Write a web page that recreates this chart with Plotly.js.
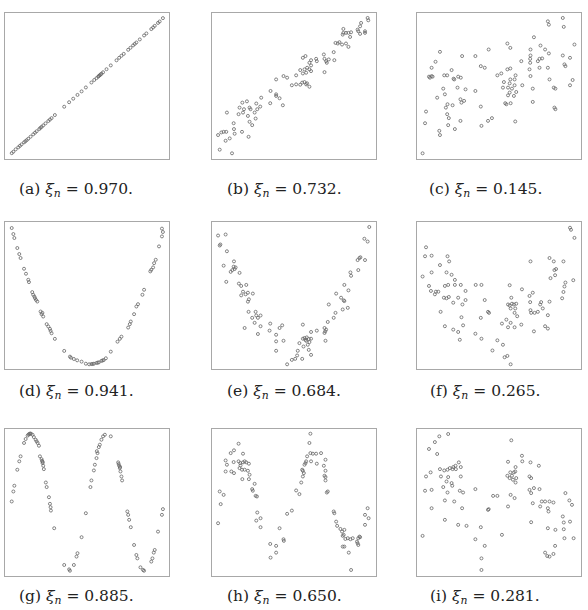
<!DOCTYPE html>
<html>
<head>
<meta charset="utf-8">
<script src="https://cdn.plot.ly/plotly-3.0.1.min.js"></script>
<style>
  html, body { margin: 0; padding: 0; background: #fff; }
  #chart { width: 588px; height: 610px; }
</style>
</head>
<body>
<div id="chart"></div>
<script>
// values, every panel on a 0..100 scale
const aX = [4.1, 5.1, 6.5, 8.1, 9.1, 10.1, 11.6, 13.2, 14.2, 15.6, 17.2, 18.3, 19.3, 20.9, 22.3, 23.3, 24.7, 26.4, 27.4, 28.4, 30.4, 36.1, 39.1, 41.6, 44.2, 46.7, 49.3, 52.7, 54.4, 55.8, 56.8, 57.8, 58.8, 59.8, 61.9, 64.5, 68.0, 69.6, 71.0, 72.4, 75.1, 76.5, 78.1, 79.1, 80.1, 82.2, 84.8, 86.2, 89.2, 90.3, 91.3, 93.3, 94.3, 96.3, 57.3, 58.3, 12.4, 21.6];
const aY = [4.0, 5.0, 6.6, 8.0, 9.0, 10.0, 11.4, 12.9, 13.9, 15.3, 16.9, 18.0, 19.0, 20.5, 22.0, 23.0, 24.4, 26.0, 27.0, 28.0, 30.1, 35.8, 38.9, 41.3, 43.9, 46.3, 49.0, 52.4, 54.1, 55.4, 56.4, 57.4, 58.4, 59.4, 61.5, 64.1, 67.6, 69.3, 70.7, 72.0, 74.8, 76.2, 77.8, 78.8, 79.8, 81.9, 84.6, 86.0, 89.0, 90.1, 91.2, 93.2, 94.2, 96.5, 56.9, 57.9, 12.1, 21.3];

const bX = [4.7, 12.2, 3.7, 5.7, 7.1, 8.7, 8.3, 10.8, 13.8, 13.4, 18.3, 22.3, 13.2, 9.1, 16.2, 18.9, 16.8, 19.5, 18.5, 21.3, 22.9, 23.5, 21.9, 22.9, 24.5, 26.6, 26.0, 27.6, 27.0, 29.4, 30.0, 35.7, 35.5, 39.1, 39.1, 41.2, 43.2, 39.1, 43.6, 45.8, 48.7, 51.3, 53.8, 55.0, 56.4, 58.0, 59.4, 51.3, 53.8, 56.4, 57.4, 58.0, 59.4, 60.4, 59.4, 60.4, 55.4, 57.0, 63.5, 63.9, 68.2, 68.6, 69.6, 71.2, 68.6, 74.2, 74.6, 75.3, 76.7, 77.7, 79.3, 81.7, 83.2, 80.1, 80.1, 79.7, 81.7, 83.2, 84.8, 84.2, 88.8, 89.2, 90.3, 90.9, 90.3, 93.3, 93.3, 94.9, 95.3, 57.4, 55.4, 60.4, 70.0];
const bY = [6.4, 3.9, 16.4, 18.2, 18.6, 18.6, 12.5, 14.1, 17.3, 20.5, 18.6, 15.2, 24.5, 31.8, 30.7, 31.8, 35.2, 34.1, 38.6, 39.5, 35.2, 34.1, 29.5, 25.5, 23.2, 27.7, 31.8, 34.1, 38.0, 35.9, 42.0, 46.6, 38.2, 44.3, 43.2, 41.6, 36.8, 54.5, 56.8, 55.7, 50.5, 51.1, 50.9, 52.3, 52.7, 51.8, 49.5, 57.3, 60.9, 61.4, 59.1, 62.5, 61.4, 64.1, 65.9, 67.7, 69.3, 70.5, 68.6, 67.0, 71.6, 68.6, 67.0, 68.2, 59.5, 73.2, 67.7, 79.5, 79.1, 80.0, 78.4, 79.1, 76.8, 89.1, 86.4, 85.2, 86.4, 86.4, 86.8, 83.6, 88.6, 87.5, 90.9, 93.2, 85.7, 87.5, 86.4, 96.6, 95.0, 51.1, 58.6, 60.2, 65.9];

const cX = [3.4, 4.9, 5.5, 12.3, 13.6, 14.0, 19.0, 23.1, 19.4, 18.4, 17.6, 18.6, 21.7, 26.5, 27.1, 28.7, 26.5, 16.0, 17.0, 24.7, 29.6, 35.6, 38.9, 39.3, 43.3, 45.7, 59.9, 54.5, 57.1, 59.1, 60.5, 56.5, 55.5, 52.4, 55.5, 57.9, 59.5, 53.0, 56.9, 59.5, 56.5, 64.2, 70.6, 70.6, 83.8, 84.4, 7.9, 7.3, 8.9, 9.5, 16.6, 18.4, 22.3, 22.7, 25.1, 26.7, 21.1, 8.9, 11.3, 14.0, 27.5, 35.6, 38.9, 41.3, 43.7, 49.0, 51.4, 55.1, 56.9, 55.1, 56.9, 60.1, 63.6, 68.6, 69.0, 69.0, 69.2, 69.2, 69.2, 71.3, 73.7, 74.7, 75.3, 76.3, 78.1, 80.4, 79.8, 80.8, 83.4, 84.4, 88.9, 89.9, 90.5, 93.3, 94.9, 93.3, 96.0, 79.8, 80.4, 88.9, 89.5, 74.7, 53.8];
const cY = [3.9, 24.5, 32.5, 42.0, 19.3, 16.4, 23.2, 20.5, 28.0, 30.7, 35.2, 37.5, 36.8, 40.9, 38.6, 39.8, 26.1, 48.2, 44.3, 48.9, 47.7, 46.6, 35.9, 22.7, 26.1, 28.0, 25.7, 37.5, 38.2, 43.2, 45.9, 45.5, 43.6, 48.9, 48.9, 48.2, 50.5, 52.7, 54.5, 54.5, 51.8, 50.5, 48.2, 39.1, 35.2, 34.1, 55.7, 56.4, 56.8, 56.4, 57.3, 57.3, 55.0, 54.5, 56.4, 55.7, 60.9, 62.5, 66.6, 73.4, 70.5, 70.5, 63.6, 62.5, 75.0, 57.3, 58.6, 61.4, 62.0, 79.1, 76.1, 57.3, 67.0, 61.4, 65.9, 68.6, 70.9, 75.0, 56.8, 83.4, 67.0, 68.6, 77.7, 68.9, 75.0, 72.3, 62.5, 54.5, 48.9, 48.2, 70.9, 64.8, 63.6, 69.3, 54.1, 50.5, 78.4, 94.3, 92.0, 96.6, 90.5, 62.5, 38.2];

const dX = [4.1, 5.1, 5.7, 7.5, 8.7, 9.5, 11.6, 12.8, 14.2, 14.6, 16.6, 17.2, 18.3, 18.9, 19.7, 21.7, 22.3, 23.3, 25.4, 26.4, 27.4, 27.8, 28.4, 30.4, 36.1, 39.6, 40.2, 42.0, 44.0, 46.7, 49.3, 51.3, 52.7, 54.2, 55.8, 57.2, 58.8, 60.2, 61.5, 64.5, 68.6, 70.0, 71.0, 75.1, 76.1, 76.7, 78.7, 80.1, 81.1, 83.8, 84.8, 88.6, 89.2, 90.3, 90.9, 91.9, 93.9, 95.7, 96.3, 95.7, 53.4, 56.5, 59.5, 17.9, 22.8];
const dY = [95.9, 91.8, 89.1, 82.3, 78.2, 75.5, 68.2, 64.8, 60.7, 59.1, 52.3, 50.5, 48.2, 47.0, 45.9, 39.1, 37.3, 35.7, 30.5, 28.9, 27.3, 25.9, 24.3, 20.5, 12.3, 8.4, 7.7, 6.8, 5.9, 5.0, 3.6, 3.2, 3.4, 3.6, 4.1, 4.5, 5.5, 6.1, 7.3, 11.8, 18.6, 20.5, 22.0, 28.2, 30.5, 32.3, 37.3, 42.5, 44.1, 50.5, 53.9, 66.4, 67.5, 69.1, 72.0, 74.3, 83.4, 90.2, 93.2, 95.5, 3.4, 4.3, 5.8, 49.3, 38.2];

const eX = [3.7, 8.3, 4.7, 5.1, 9.1, 7.1, 8.7, 11.4, 12.4, 13.2, 13.8, 13.4, 14.4, 16.8, 16.4, 17.8, 20.9, 18.9, 21.9, 17.8, 20.5, 22.5, 21.9, 24.9, 22.3, 26.6, 27.0, 29.6, 28.0, 24.5, 26.0, 19.9, 29.6, 35.5, 35.1, 28.0, 39.1, 41.2, 42.8, 43.6, 39.1, 39.1, 45.8, 48.7, 50.7, 52.3, 51.9, 55.0, 53.3, 55.4, 56.4, 57.0, 57.4, 57.8, 59.0, 59.4, 60.4, 58.4, 55.8, 59.0, 60.4, 55.4, 60.4, 63.9, 68.6, 69.0, 69.6, 68.6, 69.2, 70.6, 71.2, 74.2, 75.3, 79.7, 82.8, 75.7, 78.7, 80.3, 80.7, 80.7, 83.2, 84.4, 84.8, 89.2, 88.8, 89.9, 90.5, 93.3, 92.9, 94.9, 95.9];
const eY = [90.8, 91.5, 84.0, 84.7, 80.1, 70.3, 59.3, 66.1, 67.3, 69.6, 68.0, 73.2, 69.1, 65.4, 58.1, 56.5, 57.2, 52.6, 51.9, 50.1, 50.8, 47.4, 45.8, 51.3, 38.9, 38.9, 36.4, 36.4, 34.8, 34.8, 31.4, 27.9, 29.1, 30.9, 26.1, 23.8, 23.3, 27.9, 29.7, 19.2, 18.8, 12.4, 3.2, 6.2, 6.9, 12.4, 9.2, 6.9, 17.6, 20.6, 21.1, 19.9, 19.2, 21.5, 20.4, 18.3, 20.6, 16.5, 15.3, 13.0, 9.6, 30.2, 25.2, 26.1, 27.9, 25.6, 26.8, 24.5, 19.2, 32.0, 43.9, 34.8, 38.2, 40.5, 41.6, 51.3, 48.5, 46.7, 46.2, 57.2, 53.5, 65.7, 63.4, 67.3, 74.1, 75.5, 76.0, 74.1, 88.6, 86.7, 96.6];

const fX = [5.5, 4.9, 8.9, 18.6, 19.6, 14.0, 8.9, 3.4, 7.3, 8.5, 10.9, 11.5, 13.0, 17.0, 19.0, 23.1, 26.7, 18.0, 21.1, 23.1, 16.4, 18.0, 19.4, 22.1, 25.1, 27.7, 29.6, 29.6, 14.4, 17.0, 22.1, 25.1, 26.1, 28.1, 27.1, 35.8, 39.3, 41.3, 38.9, 43.3, 43.9, 35.6, 39.3, 46.0, 49.0, 52.4, 53.4, 55.1, 57.1, 51.8, 54.5, 55.5, 57.1, 59.5, 63.6, 56.5, 57.5, 55.5, 56.5, 57.1, 57.9, 59.1, 60.5, 59.9, 59.5, 61.1, 64.0, 69.2, 68.6, 70.6, 69.0, 69.2, 69.6, 71.7, 75.1, 75.7, 76.7, 80.8, 71.3, 78.1, 79.8, 79.8, 80.8, 83.4, 83.8, 84.8, 84.2, 81.4, 89.3, 90.5, 89.9, 89.3, 88.5, 95.3, 93.3, 93.9, 96.0, 73.7];
const fY = [82.8, 76.7, 77.1, 76.7, 73.2, 70.7, 65.7, 62.9, 56.5, 53.1, 50.8, 52.6, 52.6, 56.5, 57.2, 57.2, 57.2, 65.7, 64.1, 60.6, 48.5, 48.1, 49.0, 45.1, 48.5, 43.9, 53.1, 46.9, 38.9, 29.1, 26.8, 25.2, 19.9, 29.7, 35.2, 57.2, 57.2, 46.9, 34.8, 38.9, 38.2, 24.0, 20.6, 12.6, 19.5, 16.5, 8.0, 8.9, 3.2, 30.9, 33.6, 28.4, 31.4, 28.4, 30.2, 57.0, 48.5, 43.9, 43.2, 41.2, 44.4, 43.9, 44.4, 41.2, 38.2, 35.9, 54.2, 73.2, 49.7, 51.9, 45.5, 40.0, 38.2, 38.2, 43.9, 45.5, 41.2, 45.8, 25.6, 29.1, 27.5, 36.6, 75.5, 73.2, 67.3, 68.0, 63.8, 61.8, 73.2, 58.8, 56.1, 52.4, 48.1, 60.4, 96.1, 94.7, 89.2, 38.9];

const gX = [4.1, 5.1, 5.7, 7.5, 8.7, 9.5, 11.6, 12.6, 13.8, 14.8, 15.8, 16.8, 17.6, 18.7, 19.3, 19.9, 20.7, 21.3, 22.3, 22.9, 23.3, 23.7, 24.9, 25.4, 26.8, 27.4, 27.8, 28.0, 30.0, 36.1, 39.1, 39.6, 42.0, 43.6, 44.2, 46.7, 49.3, 52.1, 52.7, 54.2, 54.8, 55.8, 56.4, 57.2, 57.8, 58.8, 59.8, 60.9, 64.5, 69.0, 69.6, 70.0, 70.4, 71.0, 71.4, 74.6, 75.1, 75.7, 76.7, 78.7, 80.1, 80.7, 82.6, 84.2, 84.8, 89.2, 89.9, 90.7, 91.3, 93.3, 95.7, 96.3, 14.3, 15.3, 22.6, 23.0, 69.3, 70.2, 56.0];
const gY = [50.7, 57.5, 61.4, 72.3, 78.0, 81.4, 90.5, 93.2, 95.5, 96.6, 96.8, 96.1, 94.5, 92.7, 91.6, 90.5, 88.6, 81.4, 79.5, 76.8, 75.0, 72.7, 63.6, 60.5, 53.6, 49.1, 46.8, 44.5, 32.5, 7.5, 4.5, 3.6, 7.5, 13.2, 15.5, 26.4, 42.7, 60.5, 65.0, 71.8, 75.7, 80.2, 83.6, 87.7, 89.3, 92.7, 95.0, 96.1, 95.0, 77.3, 75.0, 73.4, 71.1, 67.7, 65.0, 43.9, 41.6, 38.2, 33.2, 21.1, 14.3, 12.0, 5.9, 4.1, 3.6, 9.8, 12.0, 15.9, 17.7, 30.2, 41.6, 45.5, 96.2, 96.9, 78.3, 77.6, 76.2, 74.2, 84.9];

const hX = [3.7, 4.7, 7.1, 5.3, 8.3, 9.1, 8.3, 11.4, 13.4, 16.2, 11.8, 13.4, 13.2, 16.2, 17.2, 18.9, 19.9, 20.9, 17.4, 16.8, 18.3, 19.9, 22.5, 18.9, 21.9, 22.9, 18.5, 22.5, 26.0, 24.5, 24.9, 26.6, 27.4, 27.6, 27.0, 29.6, 29.6, 35.5, 35.7, 39.1, 39.1, 41.2, 43.6, 43.8, 45.8, 48.7, 51.3, 53.3, 54.4, 55.4, 55.4, 56.0, 55.0, 56.4, 57.0, 57.4, 58.0, 59.4, 60.0, 60.0, 60.4, 61.5, 63.5, 63.9, 66.5, 68.2, 69.2, 69.2, 68.6, 69.2, 69.2, 70.6, 70.0, 74.2, 74.6, 75.7, 76.3, 78.3, 79.3, 80.3, 80.7, 79.7, 81.3, 82.8, 84.4, 85.8, 88.4, 89.2, 88.8, 89.9, 90.3, 79.7, 80.7, 83.4, 84.8, 93.3, 93.3, 94.9, 95.5, 89.2];
const hY = [35.9, 57.5, 55.2, 48.9, 78.6, 75.7, 71.1, 83.6, 85.5, 90.0, 71.1, 70.0, 77.5, 78.0, 76.8, 77.3, 78.0, 77.3, 75.2, 73.4, 72.3, 72.3, 76.4, 83.2, 71.6, 68.9, 65.9, 65.9, 62.7, 59.1, 58.0, 54.5, 54.1, 43.2, 37.7, 39.3, 33.2, 21.8, 12.5, 20.5, 15.9, 32.5, 25.0, 23.9, 42.3, 44.5, 58.2, 55.7, 63.6, 67.7, 71.6, 70.0, 72.3, 75.7, 76.8, 78.0, 81.4, 90.5, 96.8, 83.6, 78.0, 83.2, 83.2, 76.4, 83.6, 75.0, 79.1, 71.6, 68.2, 67.3, 65.0, 57.5, 56.8, 43.9, 42.7, 37.0, 34.1, 32.0, 30.2, 28.0, 31.4, 27.3, 25.2, 25.7, 25.0, 25.7, 23.4, 25.7, 22.3, 26.8, 26.4, 20.0, 20.0, 15.9, 4.1, 34.8, 41.6, 46.1, 39.3, 21.1];

const iX = [3.4, 4.9, 5.5, 7.3, 8.3, 8.9, 8.9, 10.9, 12.3, 13.6, 14.0, 14.6, 16.0, 16.6, 17.0, 17.0, 18.0, 18.6, 18.6, 19.0, 19.0, 20.0, 21.1, 21.5, 21.7, 22.1, 22.7, 23.5, 23.7, 25.1, 25.5, 26.1, 26.7, 26.7, 27.5, 28.1, 30.2, 35.6, 35.6, 38.9, 39.3, 39.3, 41.3, 43.3, 43.7, 46.4, 49.0, 51.8, 55.1, 55.5, 55.5, 56.5, 56.9, 57.1, 57.5, 57.9, 59.5, 58.5, 59.1, 60.1, 60.5, 60.1, 59.9, 64.0, 64.2, 69.2, 68.6, 69.6, 68.6, 69.6, 71.3, 70.6, 74.7, 74.3, 75.1, 76.1, 78.1, 79.8, 80.8, 80.2, 83.2, 69.6, 79.8, 84.4, 89.5, 88.9, 89.5, 93.3, 89.9, 95.5, 92.9, 94.5, 90.5, 84.2, 78.1, 79.4, 80.8, 83.2];
const iY = [27.3, 58.0, 67.7, 86.4, 70.5, 58.6, 46.1, 91.1, 83.0, 95.0, 72.7, 67.7, 60.5, 71.8, 51.4, 38.2, 64.3, 72.3, 56.8, 96.6, 67.3, 73.4, 63.2, 61.4, 72.7, 74.1, 50.7, 75.0, 72.7, 34.8, 77.3, 58.0, 67.7, 74.1, 46.1, 56.8, 34.1, 59.1, 25.0, 33.2, 12.0, 4.1, 20.5, 45.0, 45.5, 54.5, 54.5, 28.0, 68.2, 77.7, 47.3, 66.6, 70.5, 55.2, 92.3, 68.2, 53.0, 65.5, 70.5, 74.1, 66.6, 63.6, 71.1, 81.8, 78.0, 77.3, 67.7, 66.6, 58.6, 56.4, 59.8, 49.5, 59.1, 75.0, 47.3, 50.7, 50.7, 46.1, 50.7, 43.9, 50.0, 36.6, 32.5, 31.4, 31.8, 40.5, 36.4, 37.0, 25.7, 25.7, 51.4, 48.4, 56.4, 20.5, 15.9, 13.6, 13.2, 15.0];

const letters = ['a', 'b', 'c', 'd', 'e', 'f', 'g', 'h', 'i'];
const xiValues = ['0.970', '0.732', '0.145', '0.941', '0.684', '0.265', '0.885', '0.650', '0.281'];

const series = [[aX, aY], [bX, bY], [cX, cY], [dX, dY], [eX, eY], [fX, fY], [gX, gY], [hX, hY], [iX, iY]];

// frame of each panel in page pixels
const colLeft = [5, 212, 417];
const colRight = [169, 376, 581];
const rowTop = [13, 222, 429];
const rowBottom = [159, 369, 576];
const captionX = [76, 284, 485];
const captionY = [190, 392, 597];

const W = 588;
const H = 610;

const traces = [];
const layout = {
  width: W,
  height: H,
  margin: { l: 0, r: 0, t: 0, b: 0 },
  paper_bgcolor: '#fff',
  plot_bgcolor: '#fff',
  showlegend: false,
  annotations: [],
};

series.forEach(([xs, ys], i) => {
  const row = Math.floor(i / 3);
  const col = i % 3;
  const n = i === 0 ? '' : i + 1;
  traces.push({
    x: xs,
    y: ys,
    xaxis: `x${n}`,
    yaxis: `y${n}`,
    type: 'scatter',
    mode: 'markers',
    hoverinfo: 'skip',
    marker: {
      symbol: 'circle-open',
      size: 3,
      color: '#666',
      line: { width: 0.8, color: '#666' },
    },
  });
  const axis = {
    range: [0, 100],
    showline: true,
    mirror: true,
    linecolor: '#a8a8a8',
    linewidth: 1,
    showgrid: false,
    zeroline: false,
    showticklabels: false,
    ticks: '',
    fixedrange: true,
  };
  layout[`xaxis${n}`] = { ...axis, domain: [colLeft[col] / W, colRight[col] / W], anchor: `y${n}` };
  layout[`yaxis${n}`] = { ...axis, domain: [1 - rowBottom[row] / H, 1 - rowTop[row] / H], anchor: `x${n}` };
  layout.annotations.push({
    xref: 'paper',
    yref: 'paper',
    x: captionX[col] / W,
    y: 1 - captionY[row] / H,
    xanchor: 'center',
    yanchor: 'middle',
    showarrow: false,
    text: `(${letters[i]}) <i>ξ</i><sub><i>n</i></sub> = ${xiValues[i]}.`,
    font: { family: 'DejaVu Serif, Liberation Serif, serif', size: 15.5, color: '#222' },
  });
});

Plotly.newPlot('chart', traces, layout, { staticPlot: true });
</script>
</body>
</html>
